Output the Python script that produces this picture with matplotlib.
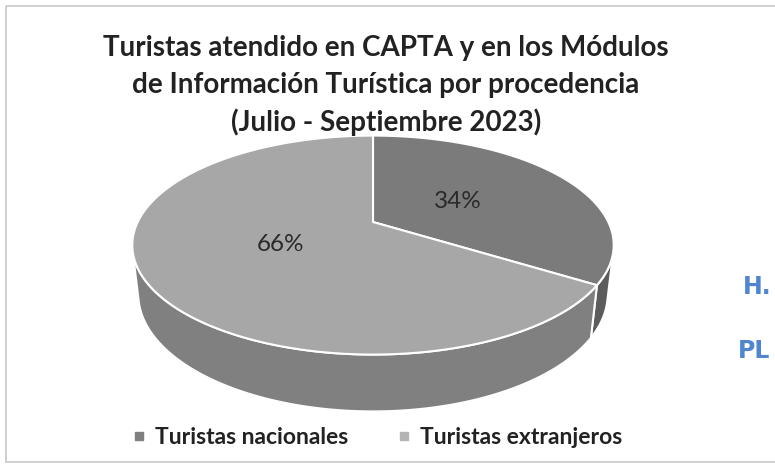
import numpy as np
import matplotlib.pyplot as plt
from matplotlib.patches import Polygon, Rectangle
from matplotlib.lines import Line2D

# datos
labels = ['Turistas nacionales', 'Turistas extranjeros']
values = [34, 66]
top_colors = ['#7b7b7b', '#a7a7a7']
wall_colors = ['#5c5c5c', '#808080']
legend_colors = ['#7f7f7f', '#b4b4b4']
title_lines = ['Turistas atendido en CAPTA y en los Módulos',
               'de Información Turística por procedencia',
               '(Julio - Septiembre 2023)']

W, H = 775, 466
fig = plt.figure(figsize=(W / 100, H / 100), dpi=100)
ax = fig.add_axes([0, 0, 1, 1])
ax.set_xlim(0, W)
ax.set_ylim(H, 0)
ax.axis('off')

# camara del pastel 3D (perspectiva)
phi = np.radians(26.4)
dist = 4.25
depth = 0.235
scale = 1000
cx, cy = 373, 222


def project(x, y, z):
    vy = y + dist * np.cos(phi)
    vz = z - dist * np.sin(phi)
    d = vy * np.cos(phi) - vz * np.sin(phi)
    sx = x / d
    sy = (vy * np.sin(phi) + vz * np.cos(phi)) / d
    return np.column_stack([cx + scale * sx, cy - scale * sy])


def arc(t0, t1, z, r=1.0, n=200):
    t = np.linspace(t0, t1, n)
    return project(r * np.cos(t), r * np.sin(t), np.full_like(t, z))


total = sum(values)
fracs = np.array(values) / total
starts = np.pi / 2 - 2 * np.pi * np.concatenate([[0], np.cumsum(fracs)[:-1]])
ends = starts - 2 * np.pi * fracs

# pared exterior visible
alpha = np.arcsin(1 / (dist * np.cos(phi)))
vis_lo, vis_hi = -np.pi + alpha, -alpha
for a0, a1, col in zip(starts, ends, wall_colors):
    for k in (0, -1, 1):
        lo = max(a1, vis_lo + 2 * np.pi * k)
        hi = min(a0, vis_hi + 2 * np.pi * k)
        if hi > lo:
            pts = np.vstack([arc(lo, hi, 0), arc(hi, lo, -depth)])
            ax.add_patch(Polygon(pts, closed=True, facecolor=col,
                                 edgecolor='white', lw=1.5, joinstyle='round'))

# caras superiores
center = project(np.array([0.0]), np.array([0.0]), np.array([0.0]))
for a0, a1, col in zip(starts, ends, top_colors):
    pts = np.vstack([center, arc(a0, a1, 0)])
    ax.add_patch(Polygon(pts, closed=True, facecolor=col,
                         edgecolor='white', lw=1.5, joinstyle='round'))

# etiquetas de porcentaje
for a0, a1, v in zip(starts, ends, values):
    m = (a0 + a1) / 2
    p = project(np.array([0.43 * np.cos(m)]), np.array([0.43 * np.sin(m)]), np.array([0.0]))[0]
    ax.text(p[0], p[1], f'{v}%', ha='center', va='center',
            fontsize=17.5, color='#2a2a2a', family='Lato')

# titulo
for i, line in enumerate(title_lines):
    ax.text(386, 48 + 37 * i, line, ha='center', va='center',
            fontsize=20, fontweight='bold', color='#222222', family='Lato')

# leyenda
handles = [Line2D([], [], marker='s', linestyle='none', markersize=6,
                  color=c) for c in legend_colors]
ax.legend(handles, labels, loc='center', bbox_to_anchor=(376 / W, 1 - 438 / H),
          ncol=2, frameon=False, prop={'family': 'Lato', 'weight': 'bold', 'size': 16.5},
          handletextpad=0.3, handlelength=0.8, columnspacing=2.0, labelcolor='#222222')

# marco del grafico
ax.add_patch(Rectangle((6, 6), W - 4, H - 10, fill=False, edgecolor='#c8c8c8', lw=1.2))

# restos de la pagina escaneada
ax.text(743, 287, 'H.', fontsize=17, fontweight='bold', color='#4f86cf',
        ha='left', va='center', family='DejaVu Sans')
ax.text(738, 351, 'PL', fontsize=17, fontweight='bold', color='#4f86cf',
        ha='left', va='center', family='DejaVu Sans')

fig.savefig('out.png', dpi=100)
